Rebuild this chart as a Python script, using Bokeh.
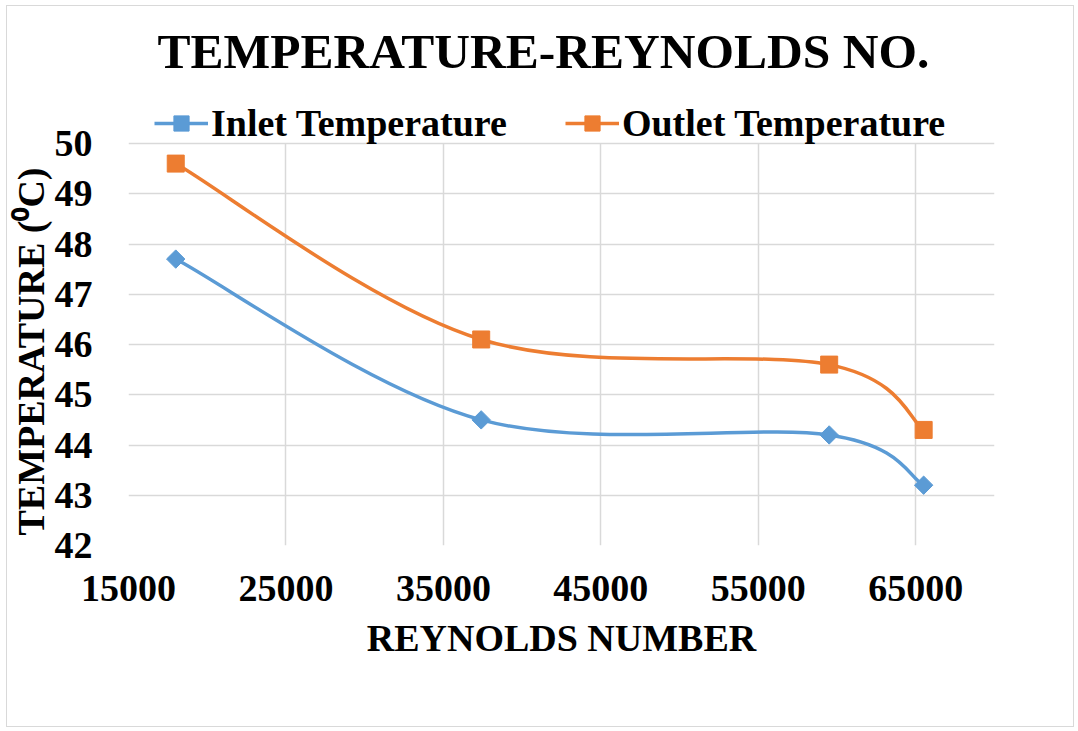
import numpy as np
from bokeh.plotting import figure
from bokeh.models import Range1d, FixedTicker, Legend, LegendItem, ColumnDataSource, Title
from bokeh.embed import file_html
from bokeh.resources import INLINE

# ---- data ----
reynolds = [18000, 37400, 59500, 65500]
inlet_temp = [47.7, 44.5, 44.2, 43.2]
outlet_temp = [49.6, 46.1, 45.6, 44.3]
x_ticks = [15000, 25000, 35000, 45000, 55000, 65000]
y_ticks = [42, 43, 44, 45, 46, 47, 48, 49, 50]
series_names = ["Inlet Temperature", "Outlet Temperature"]
title_text = "TEMPERATURE-REYNOLDS NO."
x_title = "REYNOLDS NUMBER"
y_title = "TEMPERATURE (\u2070C)"

BLUE = "#5B9BD5"
ORANGE = "#ED7D31"
GRID = "#D9D9D9"
FONT = "Liberation Serif"

# plot-area geometry (pixels): the frame also holds the legend row above the 50 line
PX_PER_DEG = 50.25
LEGEND_ROOM = 47


def smooth_segments(xs, ys):
    """Cubic Bezier control points (Catmull-Rom style, like Excel's smoothed line)."""
    px = [xs[0]] + list(xs) + [xs[-1]]
    py = [ys[0]] + list(ys) + [ys[-1]]
    d = dict(x0=[], y0=[], x1=[], y1=[], cx0=[], cy0=[], cx1=[], cy1=[])
    for i in range(len(xs) - 1):
        a, b, c, e = i, i + 1, i + 2, i + 3
        d["x0"].append(px[b]); d["y0"].append(py[b])
        d["x1"].append(px[c]); d["y1"].append(py[c])
        d["cx0"].append(px[b] + (px[c] - px[a]) / 6.0)
        d["cy0"].append(py[b] + (py[c] - py[a]) / 6.0)
        d["cx1"].append(px[c] - (px[e] - px[b]) / 6.0)
        d["cy1"].append(py[c] - (py[e] - py[b]) / 6.0)
    return ColumnDataSource(d)


y_lo, y_hi = y_ticks[0], y_ticks[-1]
p = figure(width=1068, height=722, output_backend="svg", toolbar_location=None,
           x_range=Range1d(15000, 70000),
           y_range=Range1d(y_lo, y_hi + LEGEND_ROOM / PX_PER_DEG),
           title=title_text,
           min_border_left=120, min_border_right=81, min_border_top=90, min_border_bottom=183)
p.styles = {"border": "1px solid #D9D9D9", "margin": "5px 0 0 6px"}
p.outline_line_color = None
p.background_fill_color = "white"
p.border_fill_color = "white"

p.title.text_font = FONT
p.title.text_font_style = "bold"
p.title.text_font_size = "49.5px"
p.title.text_color = "black"
p.title.align = "left"
p.title.vertical_align = "middle"
p.title.offset = 29
p.title.standoff = 33

for ax in (p.xaxis, p.yaxis):
    ax.axis_line_color = None
    ax.major_tick_line_color = None
    ax.minor_tick_line_color = None
    ax.major_label_text_font = FONT
    ax.major_label_text_font_style = "bold"
    ax.major_label_text_font_size = "38px"
    ax.major_label_text_color = "black"
    ax.axis_label_text_font = FONT
    ax.axis_label_text_font_style = "bold"
    ax.axis_label_text_font_size = "38px"
    ax.axis_label_text_color = "black"

p.xaxis.ticker = FixedTicker(ticks=x_ticks)
p.yaxis.ticker = FixedTicker(ticks=y_ticks)
p.yaxis.bounds = (y_lo, y_hi)
p.xaxis.major_label_standoff = 24
p.yaxis.major_label_standoff = 30
p.xaxis.axis_label = x_title
p.xaxis.axis_label_standoff = 13

# vertical axis title, placed along the left side starting near the bottom of the plot area
y_axis_title = Title(text=y_title, align="left", vertical_align="bottom", offset=10, standoff=0,
                     text_font=FONT, text_font_style="bold", text_font_size="38px",
                     text_color="black")
p.add_layout(y_axis_title, "left")

p.xgrid.ticker = FixedTicker(ticks=x_ticks)
p.ygrid.ticker = FixedTicker(ticks=y_ticks)
p.xgrid.cross_bounds = (y_lo, y_hi)
for g in (p.xgrid, p.ygrid):
    g.grid_line_color = GRID
    g.grid_line_width = 1.5

# smoothed lines
p.bezier(x0="x0", y0="y0", x1="x1", y1="y1", cx0="cx0", cy0="cy0", cx1="cx1", cy1="cy1",
         source=smooth_segments(reynolds, inlet_temp), line_color=BLUE, line_width=3.5)
p.bezier(x0="x0", y0="y0", x1="x1", y1="y1", cx0="cx0", cy0="cy0", cx1="cx1", cy1="cy1",
         source=smooth_segments(reynolds, outlet_temp), line_color=ORANGE, line_width=3.5)

# markers
s_in = p.scatter(reynolds, inlet_temp, marker="square", angle=np.pi / 4, size=13,
                 fill_color=BLUE, line_color=BLUE)
s_out = p.scatter(reynolds, outlet_temp, marker="square", size=17,
                  fill_color=ORANGE, line_color=ORANGE)

# hidden straight lines: only used for the line part of the legend symbols
l_in = p.line(reynolds, inlet_temp, line_color=BLUE, line_width=3.5, visible=False)
l_out = p.line(reynolds, outlet_temp, line_color=ORANGE, line_width=3.5, visible=False)

legend = Legend(items=[LegendItem(label=series_names[0], renderers=[l_in, s_in]),
                       LegendItem(label=series_names[1], renderers=[l_out, s_out])],
                location=(26, 400), orientation="horizontal",
                glyph_width=54, glyph_height=38, label_height=38, label_standoff=3,
                spacing=58, padding=0, margin=0,
                border_line_color=None, background_fill_alpha=0,
                label_text_font=FONT, label_text_font_style="bold",
                label_text_font_size="38px", label_text_color="black")
p.add_layout(legend, "center")

open("out.html", "w").write(file_html(p, INLINE))
